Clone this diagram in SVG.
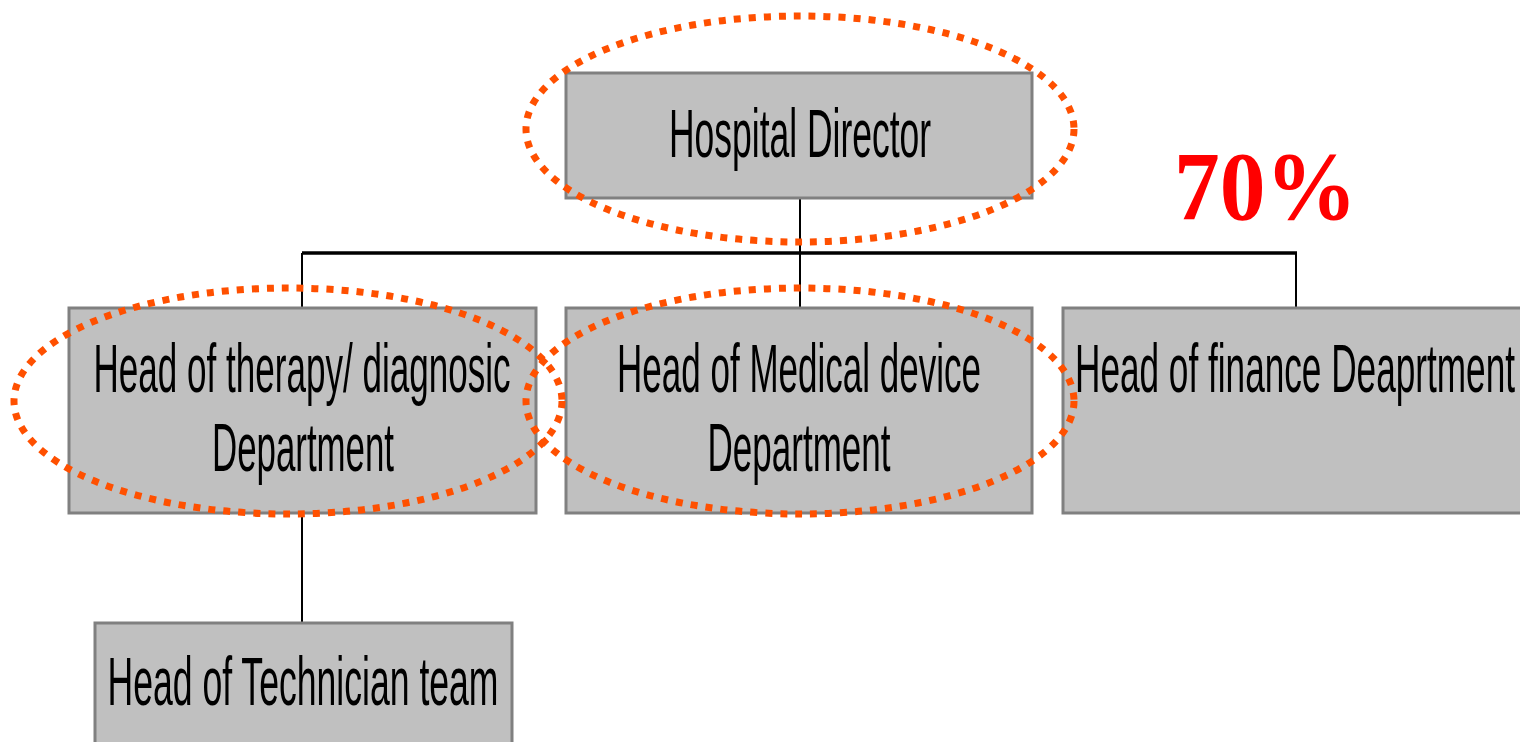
<svg xmlns="http://www.w3.org/2000/svg" width="1520" height="742" viewBox="0 0 1520 742">
<style>
.box{fill:#C0C0C0;stroke:#808080;stroke-width:3}
.lbl{font-family:"Liberation Sans",Arial,sans-serif;font-size:68px;fill:#000;text-anchor:middle}
.conn{stroke:#000;stroke-width:2;fill:none}
.bus{stroke:#000;stroke-width:3.5;fill:none}
.hl{fill:none;stroke:#FF5000;stroke-width:7;stroke-dasharray:7 8}
.pct{font-family:"Liberation Serif","Times New Roman",serif;font-weight:bold;font-size:98px;fill:#FF0000}
</style>
<rect width="1520" height="742" fill="#fff"/>
<g id="connectors">
<line class="conn" x1="800" y1="198" x2="800" y2="308"/>
<line class="bus" x1="302" y1="253" x2="1297" y2="253"/>
<line class="conn" x1="302" y1="253" x2="302" y2="308"/>
<line class="conn" x1="1296" y1="253" x2="1296" y2="308"/>
<line class="conn" x1="302" y1="513" x2="302" y2="623"/>
</g>
<g id="director">
<rect class="box" x="566" y="73" width="466" height="125"/>
<text class="lbl" x="800" y="157" textLength="262" lengthAdjust="spacingAndGlyphs">Hospital Director</text>
</g>
<g id="therapy">
<rect class="box" x="69" y="308" width="467" height="205"/>
<text class="lbl" x="302" y="392" textLength="417" lengthAdjust="spacingAndGlyphs">Head of therapy/ diagnosic</text>
<text class="lbl" x="303" y="471" textLength="182" lengthAdjust="spacingAndGlyphs">Department</text>
</g>
<g id="medical">
<rect class="box" x="566" y="308" width="466" height="205"/>
<text class="lbl" x="799" y="392" textLength="364" lengthAdjust="spacingAndGlyphs">Head of Medical device</text>
<text class="lbl" x="799" y="471" textLength="183" lengthAdjust="spacingAndGlyphs">Department</text>
</g>
<g id="finance">
<rect class="box" x="1063" y="308" width="470" height="205"/>
<text class="lbl" x="1295" y="392" textLength="440" lengthAdjust="spacingAndGlyphs">Head of finance Deaprtment</text>
</g>
<g id="technician">
<rect class="box" x="95" y="623" width="417" height="130"/>
<text class="lbl" x="303" y="705" textLength="391" lengthAdjust="spacingAndGlyphs">Head of Technician team</text>
</g>
<g id="highlights">
<ellipse class="hl" cx="800" cy="129" rx="274" ry="113"/>
<ellipse class="hl" cx="288" cy="401" rx="274" ry="113"/>
<ellipse class="hl" cx="800" cy="401" rx="274" ry="113"/>
</g>
<g id="percent">
<text class="pct" x="1174" y="219" textLength="183" lengthAdjust="spacingAndGlyphs">70%</text>
</g>
</svg>
